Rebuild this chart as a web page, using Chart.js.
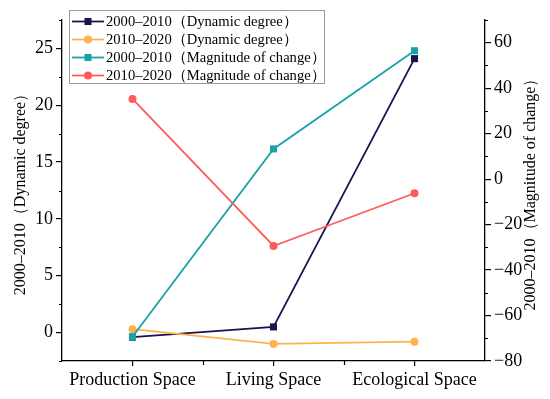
<!DOCTYPE html>
<html><head><meta charset="utf-8">
<script src="https://cdn.jsdelivr.net/npm/chart.js@4"></script>
<style>html,body{margin:0;padding:0;background:#fff}#wrap{width:550px;height:399px}</style>
</head><body><div id="wrap"><canvas id="c" width="550" height="399"></canvas></div>
<script>
const categories = ['Production Space', 'Living Space', 'Ecological Space'];
const seriesNames = ['2000–2010（Dynamic degree）', '2010–2020（Dynamic degree）', '2000–2010（Magnitude of change）', '2010–2020（Magnitude of change）'];
const dyn2000_2010 = [-0.4, 0.5, 24.1];
const dyn2010_2020 = [0.3, -1.0, -0.8];
const mag2000_2010 = [-69.3, 13.3, 56.5];
const mag2010_2020 = [35.3, -29.4, -6.2];
const leftTicks = [0, 5, 10, 15, 20, 25];
const leftMinor = [-2.5, 2.5, 7.5, 12.5, 17.5, 22.5, 27.5];
const rightTicks = [-80, -60, -40, -20, 0, 20, 40, 60];
const rightMinor = [-70, -50, -30, -10, 10, 30, 50, 70];
const leftTitle = '2000–2010（Dynamic degree）';
const rightTitle = '2000–2010（Magnitude of change）';

const FONT = '"Liberation Serif", "Times New Roman", serif';
const colors = ['#1b1250', '#ffb14e', '#1aa3a7', '#ff5a5a'];
const fmt = v => String(v).replace('-', '\u2212');

const extras = {
  id: 'extras',
  afterDraw(chart) {
    const ctx = chart.ctx;
    const x = chart.scales.x, yl = chart.scales.y, yr = chart.scales.y2;
    ctx.save();
    ctx.strokeStyle = '#000';
    ctx.lineWidth = 1.2;
    ctx.beginPath();
    leftMinor.forEach(v => { const p = Math.round(yl.getPixelForValue(v)) + 0.5; ctx.moveTo(yl.right - 3, p); ctx.lineTo(yl.right, p); });
    rightMinor.forEach(v => { const p = Math.round(yr.getPixelForValue(v)) + 0.5; ctx.moveTo(yr.left, p); ctx.lineTo(yr.left + 3, p); });
    for (let i = 0; i < categories.length - 1; i++) {
      const p = Math.round((x.getPixelForValue(i) + x.getPixelForValue(i + 1)) / 2) + 0.5;
      ctx.moveTo(p, x.top); ctx.lineTo(p, x.top + 4);
    }
    ctx.stroke();
    ctx.fillStyle = '#000';
    ctx.font = '16px ' + FONT;
    ctx.textAlign = 'center';
    ctx.textBaseline = 'middle';
    ctx.translate(531, (yr.top + yr.bottom) / 2);
    ctx.rotate(-Math.PI / 2);
    ctx.fillText(rightTitle, 0, 0);
    ctx.restore();

    ctx.save();
    const bx = 69.5, by = 10.5, bw = 255, bh = 73;
    ctx.fillStyle = '#fff';
    ctx.fillRect(bx, by, bw, bh);
    ctx.strokeStyle = '#9a9a9a';
    ctx.lineWidth = 1;
    ctx.strokeRect(bx, by, bw, bh);
    chart.data.datasets.forEach((ds, i) => {
      const yy = 21.5 + i * 18;
      ctx.strokeStyle = ds.borderColor;
      ctx.lineWidth = 1.8;
      ctx.beginPath(); ctx.moveTo(72, yy); ctx.lineTo(104, yy); ctx.stroke();
      ctx.fillStyle = ds.backgroundColor;
      ctx.beginPath();
      if (ds.pointStyle === 'rect') { const s = ds.pointRadius * Math.SQRT1_2; ctx.rect(88 - s, yy - s, 2 * s, 2 * s); }
      else { ctx.arc(88, yy, ds.pointRadius, 0, Math.PI * 2); }
      ctx.fill();
      ctx.fillStyle = '#000';
      ctx.font = '14.6px ' + FONT;
      ctx.textAlign = 'left';
      ctx.textBaseline = 'middle';
      ctx.fillText(ds.label, 106, yy + 1);
    });
    ctx.restore();
  }
};

const series = [dyn2000_2010, dyn2010_2020, mag2000_2010, mag2010_2020];
const axes = ['y', 'y', 'y2', 'y2'];
const styles = ['rect', 'circle', 'rect', 'circle'];

new Chart(document.getElementById('c'), {
  type: 'line',
  data: {
    labels: categories,
    datasets: series.map((d, i) => ({
      label: seriesNames[i],
      data: d,
      yAxisID: axes[i],
      borderColor: colors[i],
      backgroundColor: colors[i],
      pointStyle: styles[i],
      pointRadius: styles[i] === 'rect' ? 5 : 4,
      pointBorderWidth: 0,
      borderWidth: 1.8,
      tension: 0,
      order: 4 - i
    }))
  },
  options: {
    responsive: false,
    devicePixelRatio: 1,
    animation: false,
    layout: { padding: { top: 20, left: 0, right: 0, bottom: 0 } },
    plugins: { legend: { display: false }, tooltip: { enabled: false } },
    scales: {
      x: {
        offset: true,
        grid: { display: true, drawOnChartArea: false, drawTicks: true, tickLength: 5, color: '#000', lineWidth: 1.2, offset: false },
        border: { display: true, color: '#000', width: 1.3 },
        ticks: { color: '#000', font: { family: FONT, size: 18 }, padding: 3, maxRotation: 0 },
        afterFit(s) { s.height = 38; }
      },
      y: {
        position: 'left',
        min: -2.5, max: 27.5,
        afterBuildTicks(s) { s.ticks = leftTicks.map(v => ({ value: v })); },
        grid: { display: true, drawOnChartArea: false, drawTicks: true, tickLength: 6, color: '#000', lineWidth: 1.2 },
        border: { display: true, color: '#000', width: 1.3 },
        ticks: { color: '#000', font: { family: FONT, size: 18 }, padding: 3, callback: v => fmt(v) },
        title: { display: true, text: leftTitle, color: '#000', font: { family: FONT, size: 16 }, padding: { top: 11, bottom: 0 } },
        afterFit(s) { s.width = 62; }
      },
      y2: {
        position: 'right',
        min: -80, max: 70,
        afterBuildTicks(s) { s.ticks = rightTicks.map(v => ({ value: v })); },
        grid: { display: true, drawOnChartArea: false, drawTicks: true, tickLength: 6, color: '#000', lineWidth: 1.2 },
        border: { display: true, color: '#000', width: 1.3 },
        ticks: { color: '#000', font: { family: FONT, size: 18 }, padding: 3, callback: v => fmt(v) },
        afterFit(s) { s.width = 65; }
      }
    }
  },
  plugins: [extras]
});
</script>
</body></html>
